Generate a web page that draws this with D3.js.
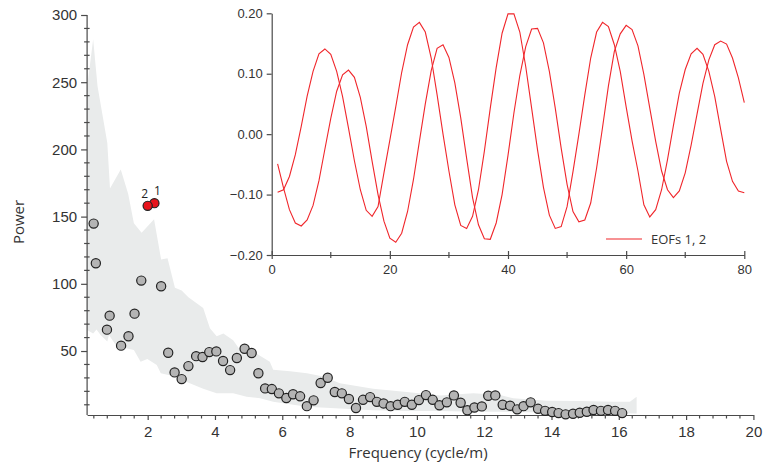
<!DOCTYPE html>
<html>
<head>
<meta charset="utf-8">
<script src="https://cdn.jsdelivr.net/npm/d3@7"></script>
<style>
  body { margin: 0; background: #fff; }
  svg { font-family: "Open Sans", sans-serif; }
  .axis path, .axis line { stroke: #4a4a4a; stroke-width: 1.2; }
  .axis text { fill: #333; }
</style>
</head>
<body>
<div id="chart"></div>
<script>
// grey MC-SSA points (frequency, power)
const freqs = [0.395, 0.46, 0.79, 0.87, 1.21, 1.43, 1.61, 1.81, 2.40, 2.61, 2.80, 3.01, 3.21, 3.44, 3.63, 3.83,
  4.04, 4.24, 4.45, 4.65, 4.88, 5.09, 5.29, 5.49, 5.69, 5.90, 6.12, 6.32, 6.53, 6.73, 6.93, 7.14, 7.35, 7.56,
  7.77, 7.98, 8.19, 8.40, 8.61, 8.81, 9.01, 9.22, 9.43, 9.64, 9.85, 10.06, 10.27, 10.47, 10.67, 10.89, 11.10,
  11.30, 11.50, 11.71, 11.93, 12.12, 12.33, 12.55, 12.77, 12.98, 13.17, 13.38, 13.60, 13.81, 14.02, 14.21,
  14.42, 14.64, 14.84, 15.05, 15.25, 15.47, 15.68, 15.89, 16.10];
const powers = [144.8, 115.3, 65.9, 76.3, 54, 61, 77.8, 102.4, 98.2, 48.7, 34.1, 29.1, 38.8, 46.2, 45.5, 49.2,
  49.7, 42.6, 35.8, 44.8, 51.7, 48.5, 33.5, 22.2, 21.7, 18.5, 15.0, 17.8, 16.3, 9.0, 13.3, 26.2, 30.1, 19.5,
  18.5, 14.3, 7.6, 13.7, 15.7, 12.2, 11.0, 9.0, 10.0, 12.2, 10.0, 13.5, 17.2, 13.7, 9.6, 11.8, 17.0,
  11.5, 5.9, 8.0, 8.8, 16.7, 17.0, 10.0, 9.3, 6.6, 9.0, 11.8, 7.0, 5.5, 4.6, 3.8,
  2.9, 3.3, 4.1, 4.8, 6.1, 5.5, 6.1, 5.5, 3.8];

// highlighted EOF pair
const eofLabels = ['1', '2'];
const eofFreqs = [2.2, 2.0];
const eofPowers = [160, 158];

// null-hypothesis band: upper and lower bounds
const upperF = [0.2, 0.38, 0.51, 0.80, 0.88, 1.20, 1.42, 1.59, 1.82, 2.19, 2.40, 2.59, 2.81, 3.01, 3.21, 3.65,
  3.85, 4.05, 4.25, 4.54, 4.74, 5.24, 5.63, 5.73, 6.23, 6.73, 7.22, 7.71, 8.70, 9.70, 10.69, 11.68, 12.47,
  12.86, 13.86, 14.85, 15.84, 16.33, 16.53];
const upperP = [246, 282, 247, 205, 171, 185, 167, 145, 138, 148, 118, 119, 97, 95, 90, 82,
  67, 61, 63, 58, 51, 48, 42, 36, 35, 33.4, 31, 26, 22, 19.6, 17, 18.5, 17.2,
  14.8, 13, 12.8, 12.2, 12.2, 16];
const lowerF = [0.2, 0.38, 0.48, 0.60, 0.80, 0.85, 1.05, 1.20, 1.59, 1.79, 1.99, 2.27, 2.39, 2.81, 3.16, 3.65,
  4.05, 4.54, 4.94, 5.34, 5.73, 6.73, 7.71, 8.70, 9.70, 10.69, 11.68, 12.47, 13.86, 15.44, 16.53];
const lowerP = [65.6, 63, 66, 62, 57, 62, 54.5, 53, 50.7, 42, 44, 39.6, 33.4, 31, 27, 22,
  18.5, 18.5, 16, 14.8, 12.3, 8.5, 7.3, 6, 5.3, 5.3, 4.8, 4.8, 4.2, 3.8, 3.5];

// inset: EOF 1 and 2 against lag
const lags = d3.range(1, 81);
const eof1 = [-0.096, -0.092, -0.070, -0.034, 0.013, 0.063, 0.104, 0.133, 0.141, 0.132,
  0.104, 0.062, 0.010, -0.044, -0.092, -0.126, -0.136, -0.120, -0.064, -0.010,
  0.045, 0.102, 0.148, 0.177, 0.185, 0.169, 0.126, 0.065, 0.000, -0.061,
  -0.117, -0.151, -0.156, -0.136, -0.092, -0.028, 0.043, 0.110, 0.167, 0.199,
  0.199, 0.169, 0.112, 0.043, -0.026, -0.088, -0.134, -0.156, -0.153, -0.120,
  -0.062, 0.000, 0.065, 0.126, 0.169, 0.185, 0.178, 0.148, 0.104, 0.045,
  -0.011, -0.061, -0.117, -0.137, -0.125, -0.092, -0.042, 0.014, 0.068, 0.107,
  0.133, 0.142, 0.132, 0.104, 0.062, 0.008, -0.045, -0.078, -0.094, -0.097];
const eof2 = [-0.049, -0.089, -0.125, -0.147, -0.152, -0.142, -0.118, -0.077, -0.025, 0.026,
  0.071, 0.098, 0.106, 0.094, 0.061, 0.013, -0.045, -0.100, -0.144, -0.172,
  -0.179, -0.164, -0.128, -0.075, -0.012, 0.050, 0.105, 0.142, 0.148, 0.127,
  0.085, 0.027, -0.040, -0.105, -0.150, -0.173, -0.174, -0.147, -0.100, -0.035,
  0.035, 0.097, 0.145, 0.174, 0.175, 0.151, 0.104, 0.043, -0.023, -0.083,
  -0.128, -0.145, -0.142, -0.114, -0.056, 0.011, 0.080, 0.137, 0.166, 0.180,
  0.173, 0.146, 0.099, 0.043, -0.012, -0.061, -0.092, -0.105, -0.094, -0.064,
  -0.018, 0.033, 0.084, 0.123, 0.148, 0.154, 0.149, 0.126, 0.093, 0.052];

const width = 767, height = 466;
const lineRed = '#f0262b';

const svg = d3.select('#chart').append('svg')
  .attr('width', width)
  .attr('height', height);

// main scales
const xScale = d3.scaleLinear().domain([0.2, 20]).range([87.1, 753.4]);
const yScale = d3.scaleLinear().domain([2.4, 300]).range([415, 15]);

// band
const bandPts = upperF.map((f, i) => [xScale(f), yScale(upperP[i])])
  .concat(lowerF.map((f, i) => [xScale(f), yScale(lowerP[i])]).reverse());
svg.append('polygon')
  .attr('points', bandPts.map(p => p.join(',')).join(' '))
  .attr('fill', '#e9ebeb');

// y axis
const yAxis = svg.append('g').attr('class', 'axis')
  .attr('transform', `translate(${xScale.range()[0]},0)`)
  .call(d3.axisLeft(yScale).tickValues(d3.range(50, 301, 50)).tickSize(6).tickPadding(4).tickSizeOuter(0))
  .style('font-size', '15px');
yAxis.select('.domain').attr('d', `M0,${yScale.range()[0]}V${yScale(300)}`);
yAxis.selectAll('.minor').data(d3.range(10, 300, 10).filter(v => v % 50 !== 0))
  .enter().append('line').attr('class', 'minor')
  .attr('x1', -3).attr('x2', 2.5)
  .attr('y1', d => yScale(d)).attr('y2', d => yScale(d));

// x axis
const xAxis = svg.append('g').attr('class', 'axis')
  .attr('transform', `translate(0,${yScale.range()[0]})`)
  .call(d3.axisBottom(xScale).tickValues(d3.range(2, 21, 2)).tickSize(5).tickPadding(6).tickSizeOuter(0))
  .style('font-size', '15px');
xAxis.selectAll('.minor').data(d3.range(0.4, 20, 0.4).filter(v => Math.abs(v / 2 - Math.round(v / 2)) > 0.01))
  .enter().append('line').attr('class', 'minor')
  .attr('x1', d => xScale(d)).attr('x2', d => xScale(d))
  .attr('y1', 0).attr('y2', 3.5);

// axis titles
svg.append('text')
  .attr('x', 418).attr('y', 458)
  .attr('text-anchor', 'middle')
  .style('font-size', '15px').attr('fill', '#333')
  .text('Frequency (cycle/m)');
svg.append('text')
  .attr('transform', 'translate(24,222) rotate(-90)')
  .attr('text-anchor', 'middle')
  .style('font-size', '15px').attr('fill', '#333')
  .text('Power');

// grey points
svg.append('g').selectAll('circle')
  .data(freqs)
  .enter().append('circle')
  .attr('cx', d => xScale(d))
  .attr('cy', (d, i) => yScale(powers[i]))
  .attr('r', 4.6)
  .attr('fill', '#b4b4b4')
  .attr('stroke', '#222')
  .attr('stroke-width', 1.2);

// red EOF pair
svg.append('g').selectAll('circle')
  .data(eofFreqs)
  .enter().append('circle')
  .attr('cx', d => xScale(d))
  .attr('cy', (d, i) => yScale(eofPowers[i]))
  .attr('r', 4.6)
  .attr('fill', '#e8141c')
  .attr('stroke', '#222')
  .attr('stroke-width', 1.2);
svg.append('g').selectAll('text')
  .data(eofFreqs)
  .enter().append('text')
  .attr('x', (d, i) => xScale(d) + (i === 0 ? 3 : -3))
  .attr('y', (d, i) => yScale(eofPowers[i]) - 8)
  .attr('text-anchor', 'middle')
  .style('font-size', '12px').attr('fill', '#222')
  .text((d, i) => eofLabels[i]);

// ---- inset ----
const ix = d3.scaleLinear().domain([0, 80]).range([271.7, 744.3]);
const iy = d3.scaleLinear().domain([-0.2, 0.2]).range([255, 13.3]);

const iyAxis = svg.append('g').attr('class', 'axis')
  .attr('transform', `translate(${ix(0)},0)`)
  .call(d3.axisLeft(iy).tickValues([-0.2, -0.1, 0, 0.1, 0.2]).tickFormat(d3.format('.2f')).tickSize(5).tickPadding(4).tickSizeOuter(0))
  .style('font-size', '13px');
const ixAxis = svg.append('g').attr('class', 'axis')
  .attr('transform', `translate(0,${iy(-0.2)})`)
  .call(d3.axisBottom(ix).tickValues([0, 20, 40, 60, 80]).tickSize(4).tickPadding(6).tickSizeOuter(0))
  .style('font-size', '13px');
ixAxis.selectAll('.tick line').attr('y1', -4);
ixAxis.selectAll('.minor').data([10, 30, 50, 70])
  .enter().append('line').attr('class', 'minor')
  .attr('x1', d => ix(d)).attr('x2', d => ix(d))
  .attr('y1', -3).attr('y2', 3);

const eofLine = d3.line()
  .x((d, i) => ix(lags[i]))
  .y(d => iy(d));
[eof1, eof2].forEach(s => {
  svg.append('path')
    .datum(s)
    .attr('d', eofLine)
    .attr('fill', 'none')
    .attr('stroke', lineRed)
    .attr('stroke-width', 1.1);
});

// legend
svg.append('line')
  .attr('x1', 606).attr('x2', 642).attr('y1', 239).attr('y2', 239)
  .attr('stroke', lineRed).attr('stroke-width', 1.1);
svg.append('text')
  .attr('x', 651).attr('y', 243.5)
  .style('font-size', '13px').attr('fill', '#333')
  .text('EOFs 1, 2');
</script>
</body>
</html>
